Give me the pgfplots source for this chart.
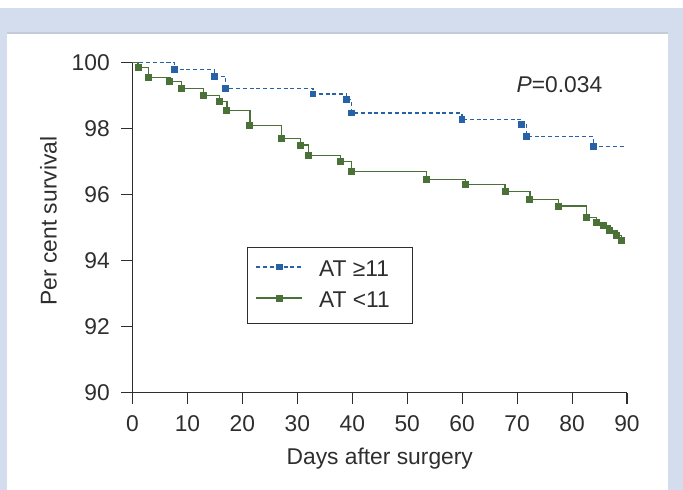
\documentclass[border=0pt]{standalone}
\usepackage{pgfplots}
\pgfplotsset{compat=1.18}
\usepackage{fontspec}
\setmainfont{Liberation Sans}

\definecolor{framebg}{HTML}{D4DDEE}
\definecolor{frameedge}{HTML}{C3CAD8}
\definecolor{txt}{HTML}{2E2E2E}
\definecolor{hiblue}{HTML}{2762A6}
\definecolor{logreen}{HTML}{4A7137}

\newcommand{\chartfont}{\fontsize{22.8}{27}\selectfont}

\begin{document}
\chartfont
\begin{tikzpicture}[x=1pt,y=1pt]
  % page frame: white strip, blue-grey band, white panel
  \fill[white] (0,0) rectangle (683,490);
  \fill[framebg] (0,0) rectangle (683,482);
  \fill[white] (7,0) rectangle (668,457);
  \draw[frameedge, line width=1.2pt] (7,457) -- (668,457);
  \useasboundingbox (0,0) rectangle (683,490);

  \begin{axis}[
    at={(132.5pt,97.4pt)}, anchor=south west,
    scale only axis, width=494.5pt, height=330pt,
    xmin=0, xmax=90, ymin=90, ymax=100,
    axis x line=bottom, axis y line=left,
    axis line style={-, line width=1.1pt, txt},
    xtick={0,10,...,90}, ytick={90,92,...,100},
    tick align=outside,
    major tick length=11pt,
    tick style={line width=1.1pt, txt},
    /pgf/number format/assume math mode=true,
    ticklabel style={font=\chartfont, text=txt},
    xticklabel style={yshift=-4pt},
    yticklabel style={xshift=-4pt},
    xlabel={Days after surgery},
    ylabel={Per cent survival},
    label style={font=\chartfont, text=txt},
    xlabel style={at={(axis description cs:0.5,-0.2)}, anchor=center},
    ylabel style={at={(axis description cs:-0.17,0.52)}, anchor=center},
    clip=false,
    legend style={at={(0.232,0.440)}, anchor=north west,
      draw=txt, line width=1.1pt, inner xsep=8pt, inner ysep=11.5pt,
      font=\chartfont, text=txt, row sep=10pt, column sep=16pt,
      nodes={inner xsep=0pt, inner ysep=1pt}},
    legend cell align=left,
    legend image code/.code={
      \draw[#1, mark indices={2}]
        plot coordinates {(0pt,3pt) (23pt,3pt) (46pt,3pt)};
    },
  ]
    % AT >= 11
    \addplot[const plot, hiblue, line width=1.2pt,
      dash pattern=on 4pt off 2.8pt,
      mark=square*, mark size=2.8pt,
      mark options={solid, fill=hiblue, draw=hiblue},
      mark indices={2,...,11}]
      coordinates {
        (0,100) (7.7,99.78) (14.98,99.58) (16.98,99.22) (32.84,99.05)
        (39.0,98.88) (39.9,98.47) (59.96,98.27) (70.82,98.12)
        (71.72,97.76) (83.87,97.46) (89.4,97.46)
      };
    \addlegendentry{\makebox[85pt][l]{AT ≥11}}

    % AT < 11
    \addplot[const plot, logreen, line width=1.3pt,
      mark=square*, mark size=2.8pt,
      mark options={fill=logreen, draw=logreen},
      mark indices={2,...,25}]
      coordinates {
        (0,100) (1.02,99.85) (2.91,99.55) (6.81,99.42) (8.9,99.22)
        (12.89,99.0) (15.87,98.83) (17.18,98.55) (21.37,98.1) (27.14,97.7)
        (30.54,97.5) (32.03,97.18) (37.82,97.0) (39.92,96.7) (53.57,96.45)
        (60.56,96.3) (67.82,96.1) (72.32,95.85) (77.5,95.65) (82.69,95.3)
        (84.47,95.15) (85.67,95.05) (86.88,94.9) (88.17,94.75) (89.06,94.6)
      };
    \addlegendentry{\makebox[85pt][l]{AT <11}}

    \node[text=txt, font=\chartfont]
      at (axis cs:77.7,99.32) {\textit{P}=0.034};
  \end{axis}
\end{tikzpicture}
\end{document}
